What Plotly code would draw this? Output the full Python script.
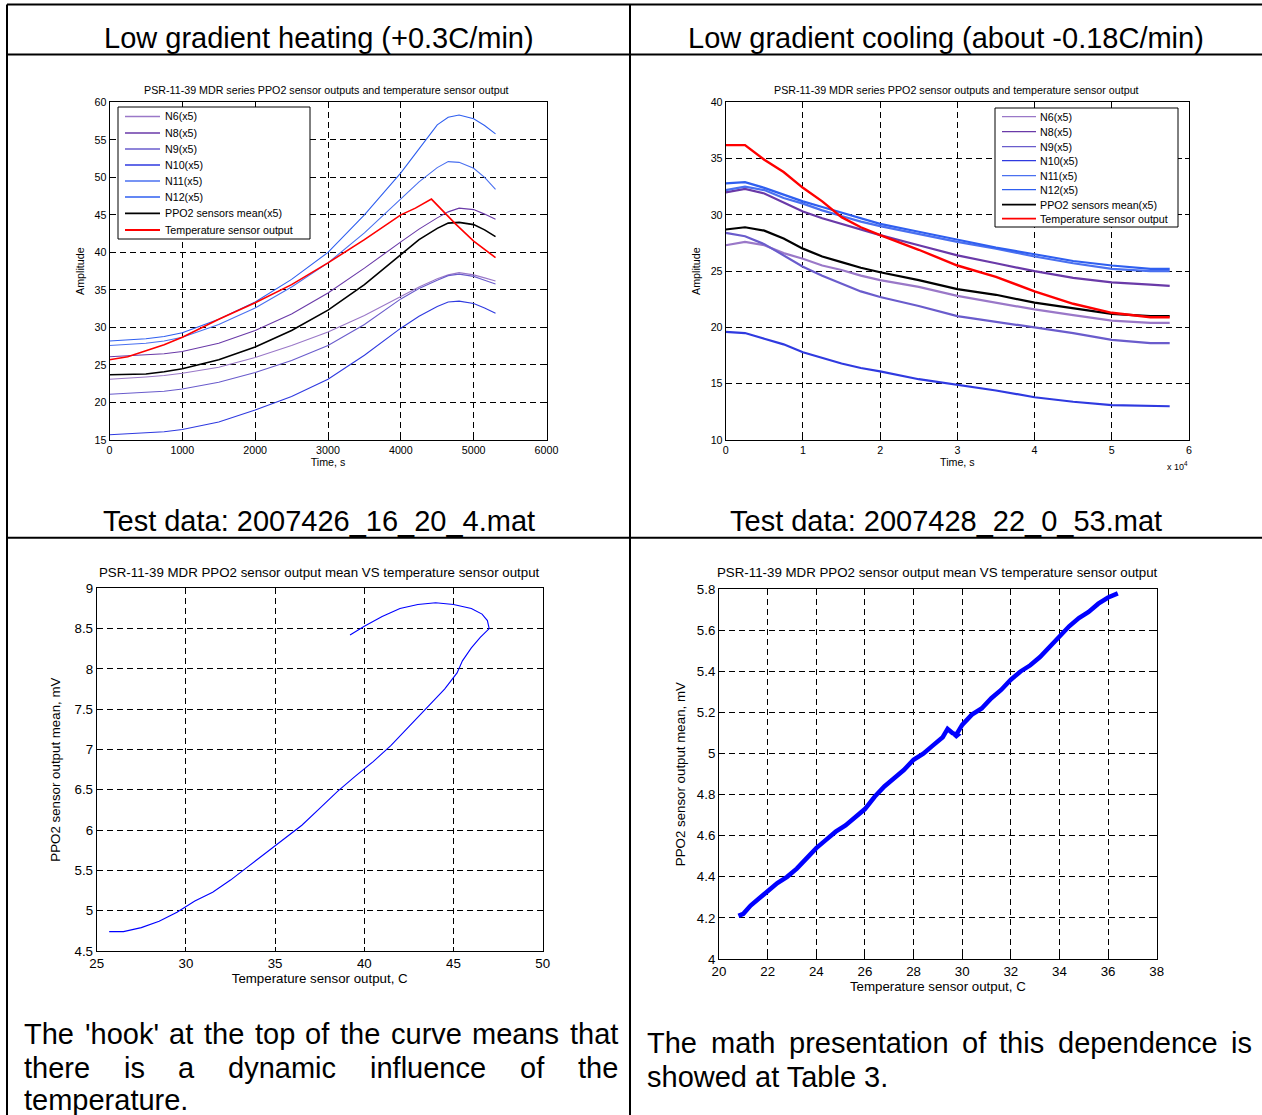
import plotly.graph_objects as go

W, H = 1262, 1115
FONT = "Liberation Sans, Arial, sans-serif"

# ---------------- data ----------------
# Top-left: heating test, time in seconds
t_heat = [0, 250, 500, 750, 1000, 1500, 2000, 2500, 3000, 3500, 4000, 4250, 4500, 4650, 4800, 5000, 5150, 5300]
heat_N6 = [23.1, 23.2, 23.4, 23.6, 23.9, 24.7, 26.0, 27.6, 29.4, 31.6, 34.2, 35.4, 36.5, 37.0, 37.3, 37.0, 36.6, 36.2]
heat_N8 = [26.1, 26.2, 26.3, 26.5, 26.8, 27.9, 29.6, 31.8, 34.6, 37.9, 41.4, 43.1, 44.6, 45.4, 45.9, 45.7, 45.1, 44.4]
heat_N9 = [21.1, 21.2, 21.3, 21.5, 21.8, 22.7, 24.0, 25.6, 27.6, 30.4, 33.8, 35.2, 36.3, 36.9, 37.1, 36.8, 36.3, 35.8]
heat_N10 = [15.7, 15.8, 15.9, 16.1, 16.4, 17.4, 19.0, 20.8, 23.1, 26.3, 29.9, 31.5, 32.8, 33.4, 33.5, 33.2, 32.6, 31.9]
heat_N11 = [27.6, 27.7, 27.9, 28.2, 28.7, 30.4, 32.6, 35.4, 38.6, 42.6, 47.2, 49.4, 51.3, 52.1, 52.0, 51.2, 50.0, 48.4]
heat_N12 = [28.2, 28.3, 28.5, 28.8, 29.3, 31.1, 33.4, 36.4, 40.0, 45.0, 50.6, 53.8, 57.0, 58.0, 58.3, 57.8, 56.9, 55.8]
heat_mean = [23.7, 23.7, 23.8, 24.1, 24.5, 25.7, 27.4, 29.6, 32.3, 35.7, 39.7, 41.7, 43.2, 43.9, 44.0, 43.7, 43.0, 42.1]
t_heat_temp = [0, 250, 500, 750, 1000, 1250, 1500, 2000, 2500, 3000, 3500, 4000, 4200, 4420, 4600, 4750, 5000, 5300]
heat_temp = [25.7, 26.1, 26.9, 27.7, 28.7, 29.9, 31.1, 33.3, 35.7, 38.6, 41.7, 45.0, 45.9, 47.1, 45.3, 43.8, 41.5, 39.3]

# Top-right: cooling test, time in seconds
t_cool = [0, 2500, 5000, 7500, 10000, 12500, 15000, 17500, 20000, 25000, 30000, 35000, 40000, 45000, 50000, 55000, 57500]
cool_N6 = [27.3, 27.6, 27.3, 26.6, 26.1, 25.5, 25.1, 24.6, 24.2, 23.6, 22.8, 22.2, 21.6, 21.1, 20.6, 20.4, 20.4]
cool_N8 = [32.0, 32.3, 31.9, 31.1, 30.3, 29.7, 29.2, 28.7, 28.2, 27.3, 26.4, 25.7, 25.0, 24.4, 24.0, 23.8, 23.7]
cool_N9 = [28.4, 28.1, 27.4, 26.4, 25.4, 24.6, 23.9, 23.2, 22.7, 21.9, 21.0, 20.5, 20.0, 19.5, 18.9, 18.6, 18.6]
cool_N10 = [19.6, 19.5, 19.0, 18.5, 17.8, 17.3, 16.8, 16.4, 16.1, 15.4, 14.9, 14.4, 13.8, 13.4, 13.1, 13.0, 13.0]
cool_N11 = [32.2, 32.5, 32.2, 31.5, 31.0, 30.4, 29.9, 29.4, 29.0, 28.3, 27.6, 27.0, 26.3, 25.7, 25.2, 25.0, 25.0]
cool_N12 = [32.8, 32.9, 32.4, 31.8, 31.2, 30.7, 30.2, 29.7, 29.2, 28.5, 27.8, 27.1, 26.5, 25.9, 25.5, 25.2, 25.2]
cool_mean = [28.7, 28.9, 28.6, 27.9, 27.0, 26.3, 25.8, 25.3, 24.9, 24.2, 23.4, 22.9, 22.2, 21.7, 21.2, 21.0, 21.0]
cool_temp = [36.2, 36.2, 34.9, 33.8, 32.4, 31.2, 29.8, 28.9, 28.2, 26.9, 25.5, 24.5, 23.2, 22.1, 21.3, 20.9, 20.9]

# Bottom-left: mean vs temperature (heating)
hook_temp = [25.7, 26.5, 27.5, 28.5, 29.5, 30.5, 31.5, 32.5, 33.5, 34.5, 35.5, 36.5, 37.5, 38.5, 39.5, 40.5,
             41.5, 42.5, 43.5, 44.5, 45.2, 45.5, 46.0, 46.5, 47.0, 46.9, 46.6, 46.0, 45.0, 44.0, 43.0, 42.0,
             41.0, 40.0, 39.2]
hook_mean = [4.74, 4.74, 4.79, 4.87, 4.98, 5.12, 5.23, 5.38, 5.55, 5.72, 5.88, 6.06, 6.27, 6.48, 6.67, 6.85,
             7.05, 7.28, 7.52, 7.75, 7.95, 8.10, 8.26, 8.39, 8.50, 8.60, 8.68, 8.75, 8.80, 8.82, 8.80, 8.75,
             8.65, 8.53, 8.42]

# Bottom-right: mean vs temperature (cooling)
lin_temp = [20.8, 21.0, 21.3, 21.6, 22.0, 22.4, 22.8, 23.2, 23.6, 24.0, 24.4, 24.8, 25.2, 25.6, 26.0, 26.4,
            26.8, 27.2, 27.6, 28.0, 28.4, 28.8, 29.2, 29.4, 29.6, 29.8, 29.7, 30.0, 30.4, 30.8, 31.2, 31.6,
            32.0, 32.4, 32.8, 33.2, 33.6, 34.0, 34.4, 34.8, 35.2, 35.6, 36.0, 36.4]
lin_mean = [4.21, 4.22, 4.26, 4.29, 4.33, 4.37, 4.40, 4.44, 4.49, 4.54, 4.58, 4.62, 4.65, 4.69, 4.73, 4.79,
            4.84, 4.88, 4.92, 4.97, 5.00, 5.04, 5.08, 5.12, 5.10, 5.09, 5.08, 5.14, 5.19, 5.22, 5.27, 5.31,
            5.36, 5.40, 5.43, 5.47, 5.52, 5.57, 5.62, 5.66, 5.69, 5.73, 5.76, 5.78]

names = ["N6(x5)", "N8(x5)", "N9(x5)", "N10(x5)", "N11(x5)", "N12(x5)", "PPO2 sensors mean(x5)", "Temperature sensor output"]
colors = ["#9a78c8", "#6a3aa8", "#6a5ccc", "#2f3ae0", "#4a70f0", "#2f5ff0", "#000000", "#ff0000"]

heat_series = [heat_N6, heat_N8, heat_N9, heat_N10, heat_N11, heat_N12, heat_mean]
cool_series = [cool_N6, cool_N8, cool_N9, cool_N10, cool_N11, cool_N12, cool_mean]

cool_xticks = [0, 10000, 20000, 30000, 40000, 50000, 60000]
cool_xticktext = ["0", "1", "2", "3", "4", "5", "6"]

# ---------------- helpers ----------------
def PX(x):
    return x / W

def PY(y):
    return 1 - y / H

def axis(domain, rng, anchor, fs, dtick=None, tickvals=None, ticktext=None, title=None, standoff=5):
    d = dict(domain=domain, range=rng, anchor=anchor, showgrid=True, gridcolor="black", gridwidth=1,
             griddash="6px,4px", zeroline=False, showline=True, linecolor="black", linewidth=1,
             mirror="ticks", ticks="inside", ticklen=4, tickcolor="black", automargin=False,
             tickfont=dict(size=fs, color="black", family=FONT))
    if dtick is not None:
        d["dtick"] = dtick
        d["tick0"] = rng[0]
    if tickvals is not None:
        d["tickvals"] = tickvals
        d["ticktext"] = ticktext
    if title:
        d["title"] = dict(text=title, standoff=standoff, font=dict(size=fs, color="black", family=FONT))
    return d

fig = go.Figure()

# Top-left traces
for i, s in enumerate(heat_series):
    fig.add_trace(go.Scatter(x=t_heat, y=s, mode="lines", name=names[i], xaxis="x", yaxis="y",
                             line=dict(color=colors[i], width=1.6 if i == 6 else 1.1), showlegend=False))
fig.add_trace(go.Scatter(x=t_heat_temp, y=heat_temp, mode="lines", name=names[7], xaxis="x", yaxis="y",
                         line=dict(color=colors[7], width=1.6), showlegend=False))

# Top-right traces
for i, s in enumerate(cool_series):
    fig.add_trace(go.Scatter(x=t_cool, y=s, mode="lines", name=names[i], xaxis="x2", yaxis="y2",
                             line=dict(color=colors[i], width=2.2), showlegend=False))
fig.add_trace(go.Scatter(x=t_cool, y=cool_temp, mode="lines", name=names[7], xaxis="x2", yaxis="y2",
                         line=dict(color=colors[7], width=2.4), showlegend=False))

# Bottom traces
fig.add_trace(go.Scatter(x=hook_temp, y=hook_mean, mode="lines", xaxis="x3", yaxis="y3",
                         line=dict(color="#0000ff", width=1.1), showlegend=False))
fig.add_trace(go.Scatter(x=lin_temp, y=lin_mean, mode="lines", xaxis="x4", yaxis="y4",
                         line=dict(color="#0000ff", width=4.5), showlegend=False))

fs_small = 10.7
fs_big = 13.3

layout = dict(
    width=W, height=H, margin=dict(l=0, r=0, t=0, b=0),
    paper_bgcolor="white", plot_bgcolor="white", showlegend=False,
    font=dict(family=FONT, color="black"),
    xaxis=axis([PX(109.5), PX(546.5)], [0, 6000], "y", fs_small, dtick=1000, title="Time, s", standoff=2),
    yaxis=axis([PY(440), PY(102.3)], [15, 60], "x", fs_small, dtick=5, title="Amplitude", standoff=7),
    xaxis2=axis([PX(725.7), PX(1189)], [0, 60000], "y2", fs_small, tickvals=cool_xticks, ticktext=cool_xticktext,
                title="Time, s", standoff=2),
    yaxis2=axis([PY(440), PY(102.3)], [10, 40], "x2", fs_small, dtick=5, title="Amplitude", standoff=7),
    xaxis3=axis([PX(96.7), PX(542.7)], [25, 50], "y3", fs_big, dtick=5, title="Temperature sensor output, C", standoff=2),
    yaxis3=axis([PY(951), PY(588.3)], [4.5, 9], "x3", fs_big, dtick=0.5, title="PPO2 sensor output mean, mV", standoff=10),
    xaxis4=axis([PX(719), PX(1156.7)], [20, 38], "y4", fs_big, dtick=2, title="Temperature sensor output, C", standoff=2),
    yaxis4=axis([PY(959), PY(589.3)], [4, 5.8], "x4", fs_big, dtick=0.2, title="PPO2 sensor output mean, mV", standoff=8),
)

shapes = []
annotations = []

# table lines
LW = 2
for (x0, y0, x1, y1) in [(7, 4.5, W, 4.5), (7, 54.5, W, 54.5), (7, 537.7, W, 537.7),
                          (7, 4.5, 7, H), (630, 4.5, 630, H)]:
    shapes.append(dict(type="line", xref="paper", yref="paper", x0=PX(x0), y0=PY(y0), x1=PX(x1), y1=PY(y1),
                       line=dict(color="black", width=LW)))

def text(x, y, s, size, xanchor="center"):
    annotations.append(dict(x=PX(x), y=PY(y), xref="paper", yref="paper", text=s, showarrow=False,
                            xanchor=xanchor, yanchor="middle", font=dict(size=size, color="black", family=FONT)))

# headers / captions
BIG = 29
text(318.5, 38, "Low gradient heating (+0.3C/min)", BIG)
text(946, 38, "Low gradient cooling (about -0.18C/min)", BIG)
text(318.5, 521, "Test data: 2007426_16_20_4.mat", BIG)
text(946, 521, "Test data: 2007428_22_0_53.mat", BIG)

# subplot titles
text(326, 90.5, "PSR-11-39 MDR series PPO2 sensor outputs and temperature sensor output", fs_small)
text(956, 90.5, "PSR-11-39 MDR series PPO2 sensor outputs and temperature sensor output", fs_small)
text(319.7, 572.5, "PSR-11-39 MDR PPO2 sensor output mean VS temperature sensor output", fs_big)
text(937.8, 572.5, "PSR-11-39 MDR PPO2 sensor output mean VS temperature sensor output", fs_big)
text(1165, 466, "x 10<sup>4</sup>", 9, xanchor="left")

# manual legends
def legend(box, sample_x, text_x, ys):
    x0, y0, x1, y1 = box
    shapes.append(dict(type="rect", xref="paper", yref="paper", x0=PX(x0), y0=PY(y1), x1=PX(x1), y1=PY(y0),
                       line=dict(color="black", width=1), fillcolor="white", layer="above"))
    for i, nm in enumerate(names):
        yy = ys[i]
        shapes.append(dict(type="line", xref="paper", yref="paper", x0=PX(sample_x[0]), x1=PX(sample_x[1]),
                           y0=PY(yy), y1=PY(yy), line=dict(color=colors[i], width=1.8 if i >= 6 else 1.3)))
        text(text_x, yy, nm, fs_small, xanchor="left")

legend((118, 107, 310, 239), (125, 160), 163, [116.5, 133, 149, 165, 181, 197, 213.3, 230])
legend((995, 108, 1178, 227), (1002, 1036), 1038, [116.7, 131.7, 146.7, 160.7, 175.7, 189.7, 204.7, 218.7])

# paragraph texts (justified lines placed word by word)
line1 = [("The", 22), ("'hook'", 82.5), ("at", 167), ("the", 201.7), ("top", 252.5), ("of", 303.3),
         ("the", 338), ("curve", 388.8), ("means", 470.2), ("that", 567.7)]
line2 = [("there", 22), ("is", 121.8), ("a", 176.4), ("dynamic", 226.2), ("influence", 367.9), ("of", 517.7),
         ("the", 575.6)]
for w, x in line1:
    text(x, 1034, w, BIG, xanchor="left")
for w, x in line2:
    text(x, 1068, w, BIG, xanchor="left")
text(22, 1100, "temperature.", BIG, xanchor="left")

rline1 = [("The", 645), ("math", 708.5), ("presentation", 786.5), ("of", 959.6), ("this", 997.3),
          ("dependence", 1055.9), ("is", 1229)]
for w, x in rline1:
    text(x, 1043, w, BIG, xanchor="left")
text(645, 1077, "showed at Table 3.", BIG, xanchor="left")

layout["shapes"] = shapes
layout["annotations"] = annotations
fig.update_layout(**layout)

fig.write_html("out.html", config={"displayModeBar": False},
               post_script="document.body.style.margin='0';document.body.style.overflow='hidden';")
